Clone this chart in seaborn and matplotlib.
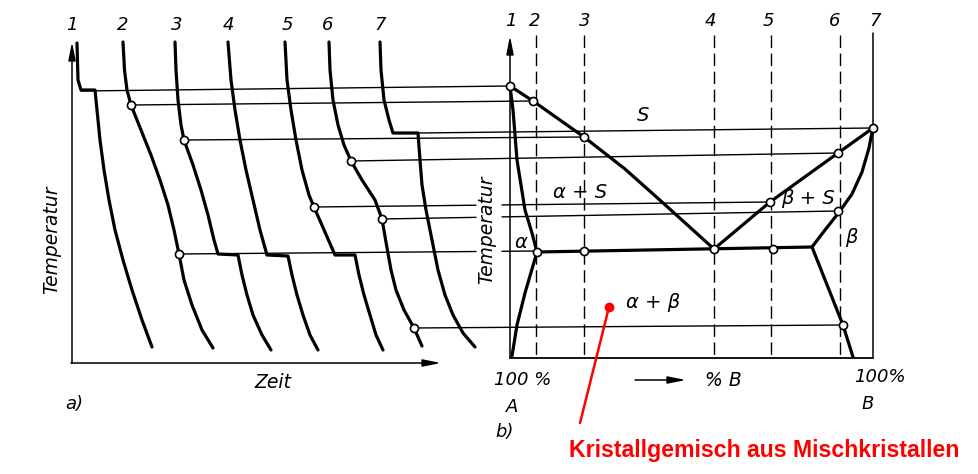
import matplotlib
matplotlib.use("Agg")
import matplotlib.pyplot as plt
import seaborn as sns
import pandas as pd

# ---------------- data (drawing coordinates, y pointing down) ----------------
curve_names = ["1", "2", "3", "4", "5", "6", "7"]

cool1_x = [77, 78, 81, 95, 97, 100, 104, 109, 115, 123, 132, 142, 152]
cool1_y = [43, 80, 90, 90, 110, 140, 170, 200, 230, 260, 290, 320, 347]
cool2_x = [123, 124.5, 127, 131, 141, 151, 160, 168, 174, 179, 184, 192, 202, 213]
cool2_y = [42, 70, 90, 105, 130, 155, 180, 205, 230, 254, 280, 305, 330, 348]
cool3_x = [175, 176, 178, 181, 184, 193, 201, 208, 214, 218, 238, 242, 247, 253, 262, 271]
cool3_y = [42, 70, 100, 125, 140, 165, 190, 215, 240, 254, 255, 275, 295, 315, 335, 350]
cool4_x = [228, 231, 235, 240, 246, 253, 260, 267, 288, 292, 297, 303, 310, 318]
cool4_y = [42, 80, 110, 140, 170, 200, 230, 255, 256, 275, 295, 315, 335, 350]
cool5_x = [285, 287, 291, 296, 302, 309, 314, 335, 355, 359, 364, 370, 376, 383]
cool5_y = [42, 80, 110, 140, 170, 195, 207, 255, 255, 275, 295, 315, 335, 350]
cool6_x = [329, 330, 333, 338, 344, 351, 362, 375, 382, 386.5, 391, 396, 404, 414, 422]
cool6_y = [42, 70, 100, 125, 145, 161, 180, 200, 219, 245, 270, 290, 310, 328, 346]
cool7_x = [380, 381, 384, 389, 393, 418, 420, 422, 426, 432, 438, 445, 453, 463, 475]
cool7_y = [42, 70, 100, 120, 133, 133, 160, 185, 210, 240, 270, 295, 315, 333, 347]

# arrest points on the cooling curves
left_pts_x = [131, 184, 351, 314, 382, 179, 414]
left_pts_y = [105, 140, 161, 207, 219, 254, 328]

# horizontal transfer lines: start x, start y, end x, end y
link_x0 = [81, 131, 184, 418, 351, 314, 382, 179, 414]
link_y0 = [91, 105, 140, 133, 161, 207, 219, 254, 328]
link_x1 = [510, 533, 584, 873, 838, 770, 838, 537, 843]
link_y1 = [86, 101, 137, 128, 153, 202, 211, 251, 325]
link_gap = [False, False, False, False, False, True, True, True, False]

# phase diagram lines
liq_a_x = [510, 533, 584, 625, 662, 714]
liq_a_y = [86, 101, 137, 169, 202, 249]
liq_b_x = [714, 770, 838, 873]
liq_b_y = [249, 202, 153, 128]
sol_a_x = [510, 513, 517, 525, 532, 537]
sol_a_y = [86, 110, 160, 210, 233, 252]
solv_a_x = [537, 525, 517, 512]
solv_a_y = [252, 293, 325, 356]
eut_x = [537, 812]
eut_y = [252, 247]
sol_b_x = [873, 869, 862, 852, 840, 825, 812]
sol_b_y = [127, 148, 172, 194, 211, 230, 247]
solv_b_x = [812, 843, 853]
solv_b_y = [247, 325, 357]

right_pts_x = [510, 533, 584, 873, 838, 770, 838, 537, 584, 714, 773, 843]
right_pts_y = [86, 101, 137, 128, 153, 202, 211, 252, 251, 249, 249, 325]

dash_x = [536, 584, 714, 771, 840]

left_num_x = [72, 123, 177, 228, 287, 328, 380]
right_num_x = [511, 535, 585, 710, 768, 835, 875]

# ---------------- figure ----------------
sns.set_theme(style="white")
plt.rcParams["font.family"] = ["DejaVu Sans"]

fig = plt.figure(figsize=(9.79, 4.74), dpi=100)
ax = fig.add_axes([0, 0, 1, 1])
ax.set_xlim(0, 979)
ax.set_ylim(474, 0)
ax.axis("off")

K = "black"
THICK = 2.3
THIN = 1.0

# cooling curves
cx = [cool1_x, cool2_x, cool3_x, cool4_x, cool5_x, cool6_x, cool7_x]
cy = [cool1_y, cool2_y, cool3_y, cool4_y, cool5_y, cool6_y, cool7_y]
rows = []
for name, xs, ys in zip(curve_names, cx, cy):
    for i, (x, y) in enumerate(zip(xs, ys)):
        rows.append({"curve": name, "order": i, "x": x, "y": y})
cool_df = pd.DataFrame(rows)
sns.lineplot(data=cool_df, x="x", y="y", units="curve", estimator=None,
             sort=False, color=K, lw=THICK, ax=ax, legend=False,
             solid_joinstyle="round")

# transfer lines
for x0, y0, x1, y1, gap in zip(link_x0, link_y0, link_x1, link_y1, link_gap):
    if gap:
        gx0, gx1 = 476, 502
        f0 = (gx0 - x0) / (x1 - x0)
        f1 = (gx1 - x0) / (x1 - x0)
        ax.plot([x0, gx0], [y0, y0 + f0 * (y1 - y0)], color=K, lw=THIN)
        ax.plot([gx1, x1], [y0 + f1 * (y1 - y0), y1], color=K, lw=THIN)
    else:
        ax.plot([x0, x1], [y0, y1], color=K, lw=THIN)

# phase diagram
for xs, ys in [(liq_a_x, liq_a_y), (liq_b_x, liq_b_y), (sol_a_x, sol_a_y),
               (solv_a_x, solv_a_y), (eut_x, eut_y), (sol_b_x, sol_b_y),
               (solv_b_x, solv_b_y)]:
    sns.lineplot(x=xs, y=ys, sort=False, estimator=None, color=K, lw=THICK, ax=ax,
                 solid_joinstyle="round")

for x in dash_x:
    ax.plot([x, x], [35, 358], color=K, lw=THIN, dashes=(9, 4))

# axes of both panels
arrow = dict(arrowstyle="-|>,head_length=0.9,head_width=0.18", color=K, lw=1.1,
             shrinkA=0, shrinkB=0)
ax.annotate("", xy=(72, 42), xytext=(72, 363), arrowprops=arrow)
ax.annotate("", xy=(441, 363), xytext=(72, 363), arrowprops=arrow)
ax.plot([71.5, 72], [363, 363], color=K, lw=1.1)
ax.annotate("", xy=(510, 36), xytext=(510, 358), arrowprops=arrow)
ax.plot([510, 873], [358, 358], color=K, lw=1.3)
ax.plot([873, 873], [33, 358], color=K, lw=1.1)
ax.annotate("", xy=(686, 380), xytext=(635, 380), arrowprops=arrow)

# circles
sns.scatterplot(x=left_pts_x + right_pts_x, y=left_pts_y + right_pts_y, s=34,
                facecolor="white", edgecolor=K, linewidth=1.2, zorder=5, ax=ax)

# text
tk = dict(style="italic", color=K, ha="center", va="center")
for n, x in zip(curve_names, left_num_x):
    ax.text(x, 25, n, fontsize=13, **tk)
for n, x in zip(curve_names, right_num_x):
    ax.text(x, 21, n, fontsize=13, **tk)

ax.text(52, 240, "Temperatur", fontsize=13.5, rotation=90, **tk)
ax.text(487, 230, "Temperatur", fontsize=13.5, rotation=90, **tk)
ax.text(273, 382, "Zeit", fontsize=13.5, **tk)
ax.text(74, 404, "a)", fontsize=13, **tk)
ax.text(523, 380, "100 %", fontsize=13, **tk)
ax.text(512, 407, "A", fontsize=13, **tk)
ax.text(505, 432, "b)", fontsize=13, **tk)
ax.text(723, 380, "% B", fontsize=13.5, **tk)
ax.text(880, 377, "100%", fontsize=13, **tk)
ax.text(868, 404, "B", fontsize=13, **tk)

ax.text(643, 115, "S", fontsize=14, **tk)
ax.text(580, 193, "α + S", fontsize=14, **tk)
ax.text(808, 199, "β + S", fontsize=14, **tk)
ax.text(521, 242, "α", fontsize=14, **tk)
ax.text(851, 237, "β", fontsize=14, **tk)
ax.text(653, 303, "α + β", fontsize=14, **tk)

# red annotation
RED = "#ff0000"
ax.plot([609, 580], [307, 423], color=RED, lw=1.8, zorder=6)
ax.scatter([609], [307], s=50, color=RED, zorder=7, linewidths=0)
ax.text(764, 451, "Kristallgemisch aus Mischkristallen", color=RED,
        fontsize=16.7, fontweight="bold", family=["Liberation Sans", "DejaVu Sans"],
        ha="center", va="center")

fig.savefig("out.png", dpi=100, facecolor="white")
